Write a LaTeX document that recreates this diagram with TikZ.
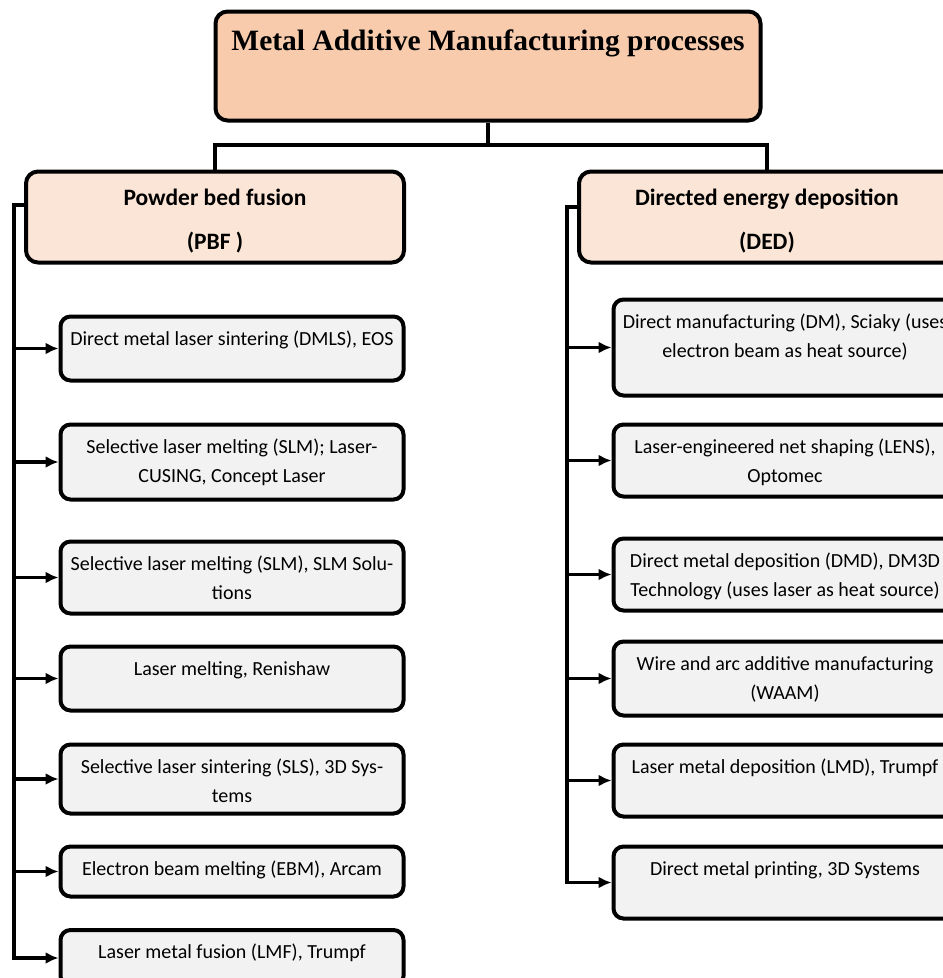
\documentclass[tikz,border=0pt]{standalone}
\usepackage{fontspec}
\setmainfont{Carlito}
\newfontfamily\titlefont{Liberation Serif}
\usetikzlibrary{arrows.meta}

\definecolor{topfill}{HTML}{F8CBAD}
\definecolor{headfill}{HTML}{FBE5D6}
\definecolor{itemfill}{HTML}{F2F2F2}

\tikzset{
  topbox/.style={draw, line width=4pt, rounded corners=12pt, fill=topfill,
    minimum width=545pt, minimum height=109pt},
  titletext/.style={anchor=north, yshift=-16pt, inner sep=0pt,
    font=\titlefont\bfseries\fontsize{29.5}{35}\selectfont, execute at begin node=\strut},
  headbox/.style={draw, line width=4pt, rounded corners=12pt, fill=headfill,
    minimum width=376pt, minimum height=91pt},
  headtext/.style={anchor=north, yshift=-19pt, inner sep=0pt, align=flush center,
    font=\bfseries\fontsize{23.5}{44}\selectfont, execute at begin node=\strut},
  itembox/.style={draw, line width=4pt, rounded corners=10pt, fill=itemfill,
    minimum width=343pt},
  itemtext/.style={anchor=north, yshift=-10pt, inner sep=0pt, text width=340pt, align=flush center,
    font=\fontsize{20}{29}\selectfont, execute at begin node=\strut},
  link/.style={line width=3.5pt},
}

\begin{document}
\begin{tikzpicture}[x=1pt, y=-1pt, >={Latex[length=13pt,width=12pt]}]
    \useasboundingbox (0,0) rectangle (943,978);
    \clip (0,0) rectangle (943,978);

    % 1. Top box and the two families
    \node[topbox] (top) at (488,66) {};
    \node[titletext] (toptxt) at (top.north) {Metal Additive Manufacturing processes};

    \node[headbox, minimum width=378pt] (pbf) at (215,217) {};
    \node[headtext] (pbftxt) at (pbf.north) {Powder bed fusion\\(PBF )};
    \node[headbox] (ded) at (767,217) {};
    \node[headtext] (dedtxt) at (ded.north) {Directed energy deposition\\(DED)};

    \coordinate (hub) at (488,145);
    \draw[link] (top.south) -- (hub);
    \draw[link] (pbf.north) |- (hub) -| (ded.north);

    % 2. Powder bed fusion processes
    \node[itembox, minimum height=64pt] (pbf1) at (232,348.5) {};
    \node[itemtext] (pbftxt1) at (pbf1.north) {Direct metal laser sintering (DMLS), EOS};

    \node[itembox, minimum height=75pt] (pbf2) at (232,462) {};
    \node[itemtext] (pbftxt2) at (pbf2.north) {Selective laser melting (SLM); Laser-\\CUSING, Concept Laser};

    \node[itembox, minimum height=72pt] (pbf3) at (232,577.5) {};
    \node[itemtext] (pbftxt3) at (pbf3.north) {Selective laser melting (SLM), SLM Solu-\\tions};

    \node[itembox, minimum height=64pt] (pbf4) at (232,678.5) {};
    \node[itemtext] (pbftxt4) at (pbf4.north) {Laser melting, Renishaw};

    \node[itembox, minimum height=69pt] (pbf5) at (232,779) {};
    \node[itemtext] (pbftxt5) at (pbf5.north) {Selective laser sintering (SLS), 3D Sys-\\tems};

    \node[itembox, minimum height=50pt] (pbf6) at (232,871.5) {};
    \node[itemtext] (pbftxt6) at (pbf6.north) {Electron beam melting (EBM), Arcam};

    \node[itembox, minimum height=56pt] (pbf7) at (232,958) {};
    \node[itemtext] (pbftxt7) at (pbf7.north) {Laser metal fusion (LMF), Trumpf};

    % left spine with arrows
    \coordinate (lbus) at (14,205);
    \draw[link, ->] ([yshift=12pt]pbf.west) -- (lbus) |- (pbf7.west);
    \draw[link, ->] (lbus |- pbf1.west) -- (pbf1.west);
    \draw[link, ->] (lbus |- pbf2.west) -- (pbf2.west);
    \draw[link, ->] (lbus |- pbf3.west) -- (pbf3.west);
    \draw[link, ->] (lbus |- pbf4.west) -- (pbf4.west);
    \draw[link, ->] (lbus |- pbf5.west) -- (pbf5.west);
    \draw[link, ->] (lbus |- pbf6.west) -- (pbf6.west);

    % 3. Directed energy deposition processes
    \node[itembox, minimum height=96pt] (ded1) at (785,347.5) {};
    \node[itemtext] (dedtxt1) at (ded1.north) {Direct manufacturing (DM), Sciaky (uses\\electron beam as heat source)};

    \node[itembox, minimum height=72pt] (ded2) at (785,460.5) {};
    \node[itemtext] (dedtxt2) at (ded2.north) {Laser-engineered net shaping (LENS),\\Optomec};

    \node[itembox, minimum height=72pt] (ded3) at (785,574.5) {};
    \node[itemtext] (dedtxt3) at (ded3.north) {Direct metal deposition (DMD), DM3D\\Technology (uses laser as heat source)};

    \node[itembox, minimum height=74pt] (ded4) at (785,678.5) {};
    \node[itemtext] (dedtxt4) at (ded4.north) {Wire and arc additive manufacturing\\(WAAM)};

    \node[itembox, minimum height=72pt] (ded5) at (785,780.5) {};
    \node[itemtext] (dedtxt5) at (ded5.north) {Laser metal deposition (LMD), Trumpf};

    \node[itembox, minimum height=72pt] (ded6) at (785,882.5) {};
    \node[itemtext] (dedtxt6) at (ded6.north) {Direct metal printing, 3D Systems};

    % right spine with arrows
    \coordinate (rbus) at (567,207);
    \draw[link, ->] ([yshift=10pt]ded.west) -- (rbus) |- (ded6.west);
    \draw[link, ->] (rbus |- ded1.west) -- (ded1.west);
    \draw[link, ->] (rbus |- ded2.west) -- (ded2.west);
    \draw[link, ->] (rbus |- ded3.west) -- (ded3.west);
    \draw[link, ->] (rbus |- ded4.west) -- (ded4.west);
    \draw[link, ->] (rbus |- ded5.west) -- (ded5.west);
\end{tikzpicture}
\end{document}
